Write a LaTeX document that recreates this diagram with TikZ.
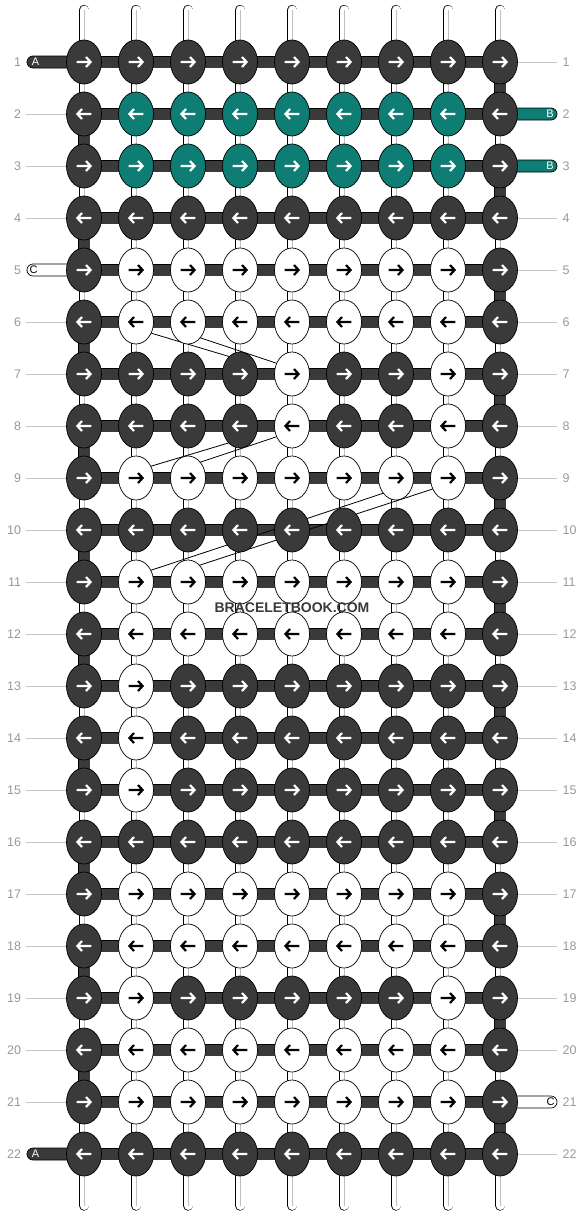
\documentclass[tikz,border=0pt]{standalone}
\usepackage{fontspec}
\setmainfont{Liberation Sans}
\usetikzlibrary{shapes.geometric,calc}
\definecolor{dk}{HTML}{3A3A3A}
\definecolor{tl}{HTML}{0E7D73}
\definecolor{lblgray}{HTML}{999999}
\definecolor{gline}{HTML}{C4C4C4}
\definecolor{cgray}{HTML}{C0C0C0}
\begin{document}
\begin{tikzpicture}[x=1pt,y=-1pt,
 vstr/.style={draw=black,line width=0.7pt,double=white,double distance=9pt,line cap=round},
 vmid/.style={draw=cgray,line width=1pt},
 bar/.style={draw=black,line width=0.6pt,double=dk,double distance=11pt},
 leadbox/.style={draw=black,line width=0.7pt,rounded corners=6pt},
 knot/.style={ellipse,draw=black,line width=0.7pt,minimum width=35pt,minimum height=44pt,inner sep=0pt},
 knotD/.style={knot,fill=dk}, knotT/.style={knot,fill=tl}, knotW/.style={knot,fill=white},
 arrD/.style={draw=white}, arrT/.style={draw=white}, arrW/.style={draw=black},
 arrowline/.style={line width=2.2pt,line join=miter,line cap=butt},
 guidel/.style={draw=gline,line width=0.8pt},
 diag/.style={draw=black,line width=0.8pt},
 rowlbl/.style={text=lblgray,font=\fontsize{12.5}{12.5}\selectfont,inner sep=0pt},
 leadtxt/.style={font=\fontsize{11}{11}\selectfont,inner sep=0pt},
 wmark/.style={text=dk,font=\bfseries\fontsize{14}{14}\selectfont,inner sep=0pt}
]
\fill[white] (0,0) rectangle (584,1216);
\useasboundingbox (0,0) rectangle (584,1216);

% grid coordinates
\foreach \r in {1,...,22}{
  \foreach \c in {1,...,9}{
    \coordinate (p-\r-\c) at ({84+52*(\c-1)},{62+52*(\r-1)});
  }
  \coordinate (gl-\r) at (26,{62+52*(\r-1)});
  \coordinate (gr-\r) at (557,{62+52*(\r-1)});
}

% guide lines and row labels
\foreach \r in {1,...,22}{
  \draw[guidel] (gl-\r) -- (gr-\r);
  \node[rowlbl,anchor=east] (ll-\r) at ($(gl-\r)+(-4.8,0)$) {\r};
  \node[rowlbl,anchor=west] (lr-\r) at ($(gr-\r)+(5.5,0)$) {\r};
}

% vertical strings
\foreach \c in {1,...,9}{
  \coordinate (t-\c) at ({84+52*(\c-1)},10);
  \coordinate (b-\c) at ({84+52*(\c-1)},1205.5);
  \draw[vstr] (t-\c) -- (b-\c);
  \draw[vmid] (t-\c) -- (b-\c);
}

% turning segments at the edges
\foreach \r [evaluate=\r as \s using int(\r+1)] in {2,4,...,20}
  \draw[bar] (p-\r-1) -- (p-\s-1);
\foreach \r [evaluate=\r as \s using int(\r+1)] in {1,3,...,21}
  \draw[bar] (p-\r-9) -- (p-\s-9);

% horizontal strings
\foreach \r in {1,...,22}
  \draw[bar] (p-\r-1) -- (p-\r-9);

% lead strings
\coordinate (a1) at (27,56);
\coordinate (a22) at (27,1148);
\coordinate (b2) at (557,120);
\coordinate (b3) at (557,172);
\coordinate (c5) at (27,264);
\coordinate (c21) at (557,1108);
\draw[leadbox,fill=dk] (a1) rectangle ($(p-1-1)+(0,6)$);
\draw[leadbox,fill=dk] (a22) rectangle ($(p-22-1)+(0,6)$);
\draw[leadbox,fill=tl] (b2) rectangle ($(p-2-9)+(0,-6)$);
\draw[leadbox,fill=tl] (b3) rectangle ($(p-3-9)+(0,-6)$);
\draw[leadbox,fill=white] (c5) rectangle ($(p-5-1)+(0,6)$);
\draw[leadbox,fill=white] (c21) rectangle ($(p-21-9)+(0,-6)$);
\node[leadtxt,text=white] (ta1) at ($(a1)+(8.5,6)$) {A};
\node[leadtxt,text=white] (ta22) at ($(a22)+(8.5,6)$) {A};
\node[leadtxt,text=white] (tb2) at ($(b2)+(-7,-6)$) {B};
\node[leadtxt,text=white] (tb3) at ($(b3)+(-7,-6)$) {B};
\node[leadtxt,text=black] (tc5) at ($(c5)+(6.5,6)$) {C};
\node[leadtxt,text=black] (tc21) at ($(c21)+(-6.5,-6)$) {C};

% thin diagonal lines
\coordinate (d1a) at (136,328.6); \coordinate (d1b) at (240,359.8);
\coordinate (d2a) at (188,333.7); \coordinate (d2b) at (292,368.4);
\coordinate (d3a) at (136,470.7); \coordinate (d3b) at (240,439.5);
\coordinate (d4a) at (188,466.3); \coordinate (d4b) at (292,431.6);
\coordinate (d5a) at (136,575.2); \coordinate (d5b) at (396,489);
\coordinate (d6a) at (188,569);   \coordinate (d6b) at (448,484);
\draw[diag] (d1a) -- (d1b);
\draw[diag] (d2a) -- (d2b);
\draw[diag] (d3a) -- (d3b);
\draw[diag] (d4a) -- (d4b);
\draw[diag] (d5a) -- (d5b);
\draw[diag] (d6a) -- (d6b);

% knots
\foreach \pat [count=\r] in {
{D,D,D,D,D,D,D,D,D},
{D,T,T,T,T,T,T,T,D},
{D,T,T,T,T,T,T,T,D},
{D,D,D,D,D,D,D,D,D},
{D,W,W,W,W,W,W,W,D},
{D,W,W,W,W,W,W,W,D},
{D,D,D,D,W,D,D,W,D},
{D,D,D,D,W,D,D,W,D},
{D,W,W,W,W,W,W,W,D},
{D,D,D,D,D,D,D,D,D},
{D,W,W,W,W,W,W,W,D},
{D,W,W,W,W,W,W,W,D},
{D,W,D,D,D,D,D,D,D},
{D,W,D,D,D,D,D,D,D},
{D,W,D,D,D,D,D,D,D},
{D,D,D,D,D,D,D,D,D},
{D,W,W,W,W,W,W,W,D},
{D,W,W,W,W,W,W,W,D},
{D,W,D,D,D,D,D,W,D},
{D,W,W,W,W,W,W,W,D},
{D,W,W,W,W,W,W,W,D},
{D,D,D,D,D,D,D,D,D}}{
  \pgfmathsetmacro\dir{ifthenelse(mod(\r,2)==1,1,-1)}
  \foreach \k [count=\c] in \pat {
    \node[knot\k] (k-\r-\c) at (p-\r-\c) {};
    \begin{scope}[shift={(p-\r-\c)},xscale=\dir]
      \draw[arrowline,arr\k] (-7.3,0) -- (6,0) (2,-5) -- (6.6,0) -- (2,5);
    \end{scope}
  }
}

% watermark
\node[wmark] (wm) at (292,607.5) {BRACELETBOOK.COM};
\end{tikzpicture}
\end{document}
